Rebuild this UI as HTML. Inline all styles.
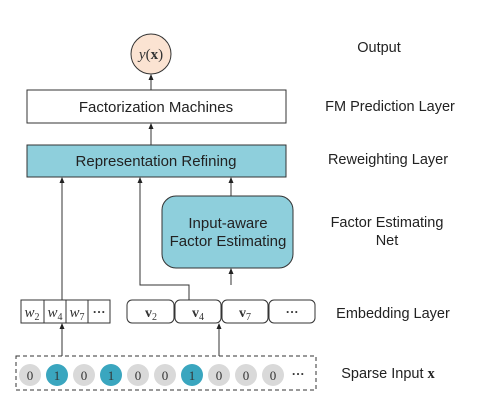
<!DOCTYPE html>
<html><head><meta charset="utf-8"><style>body{margin:0;background:#fff}</style></head><body>
<svg width="489" height="409" viewBox="0 0 489 409" xmlns="http://www.w3.org/2000/svg" font-family="Liberation Sans, sans-serif">
<defs><marker id="a" markerWidth="6" markerHeight="6" refX="5" refY="3" orient="auto" markerUnits="userSpaceOnUse"><path d="M0,0.5 L6,3 L0,5.5z" fill="#222"/></marker></defs>
<g stroke="#333" stroke-width="1" fill="none">
<circle cx="151" cy="54" r="20" fill="#fbe3d2"/>
<rect x="27" y="90" width="259" height="33" fill="#fff"/>
<rect x="27" y="145" width="259" height="32" fill="#8ecfdc"/>
<rect x="162" y="196" width="131" height="72" rx="14" fill="#8ecfdc"/>
<line x1="151" y1="90" x2="151" y2="75" marker-end="url(#a)"/>
<line x1="151" y1="145" x2="151" y2="124" marker-end="url(#a)"/>
<line x1="62" y1="300" x2="62" y2="178" marker-end="url(#a)"/>
<polyline points="189,300 189,285 140,285 140,178" marker-end="url(#a)"/>
<line x1="231" y1="196" x2="231" y2="178" marker-end="url(#a)"/>
<line x1="231" y1="285" x2="231" y2="269" marker-end="url(#a)"/>
<line x1="62" y1="356" x2="62" y2="324" marker-end="url(#a)"/>
<line x1="219" y1="356" x2="219" y2="324" marker-end="url(#a)"/>
<rect x="21" y="300" width="89" height="23" fill="#fff"/>
<line x1="44" y1="300" x2="44" y2="323"/><line x1="66" y1="300" x2="66" y2="323"/><line x1="88" y1="300" x2="88" y2="323"/>
<rect x="127" y="300" width="47" height="23" rx="5" fill="#fff"/>
<rect x="175" y="300" width="46" height="23" rx="5" fill="#fff"/>
<rect x="222" y="300" width="46" height="23" rx="5" fill="#fff"/>
<rect x="269" y="300" width="46" height="23" rx="5" fill="#fff"/>
<rect x="16" y="356" width="300" height="34" stroke-dasharray="4,3"/>
</g>
<g stroke="none">
<circle cx="30" cy="375" r="11" fill="#d9d9d9"/><circle cx="57" cy="375" r="11" fill="#3aa6bf"/>
<circle cx="84" cy="375" r="11" fill="#d9d9d9"/><circle cx="111" cy="375" r="11" fill="#3aa6bf"/>
<circle cx="138" cy="375" r="11" fill="#d9d9d9"/><circle cx="165" cy="375" r="11" fill="#d9d9d9"/>
<circle cx="192" cy="375" r="11" fill="#3aa6bf"/><circle cx="219" cy="375" r="11" fill="#d9d9d9"/>
<circle cx="246" cy="375" r="11" fill="#d9d9d9"/><circle cx="273" cy="375" r="11" fill="#d9d9d9"/>
</g>
<g font-family="Liberation Serif, serif" font-size="13" fill="#333" text-anchor="middle">
<text x="30" y="380">0</text><text x="57" y="380">1</text><text x="84" y="380">0</text><text x="111" y="380">1</text><text x="138" y="380">0</text><text x="165" y="380">0</text><text x="192" y="380">1</text><text x="219" y="380">0</text><text x="246" y="380">0</text><text x="273" y="380">0</text>
<text x="298" y="378" font-weight="bold">···</text>
<text x="151" y="59" font-size="15"><tspan font-style="italic">y</tspan>(<tspan font-weight="bold">x</tspan>)</text>
<text x="32" y="317" font-style="italic" font-size="15" text-anchor="middle">w<tspan font-size="10" font-style="normal" dy="3">2</tspan></text>
<text x="55" y="317" font-style="italic" font-size="15">w<tspan font-size="10" font-style="normal" dy="3">4</tspan></text>
<text x="77" y="317" font-style="italic" font-size="15">w<tspan font-size="10" font-style="normal" dy="3">7</tspan></text>
<text x="99" y="316" font-weight="bold">···</text>
<text x="151" y="317" font-size="14" font-weight="bold">v<tspan font-size="10" font-weight="normal" dy="3">2</tspan></text>
<text x="198" y="317" font-size="14" font-weight="bold">v<tspan font-size="10" font-weight="normal" dy="3">4</tspan></text>
<text x="245" y="317" font-size="14" font-weight="bold">v<tspan font-size="10" font-weight="normal" dy="3">7</tspan></text>
<text x="292" y="316" font-weight="bold">···</text>
</g>
<g font-size="15" fill="#222" text-anchor="middle">
<text x="156" y="112">Factorization Machines</text>
<text x="156" y="166">Representation Refining</text>
<text x="228" y="228">Input-aware</text>
<text x="228" y="246">Factor Estimating</text>
</g>
<g font-size="14.5" fill="#222" text-anchor="middle">
<text x="379" y="52">Output</text>
<text x="390" y="111">FM  Prediction Layer</text>
<text x="388" y="164">Reweighting Layer</text>
<text x="387" y="227">Factor Estimating</text>
<text x="387" y="245">Net</text>
<text x="393" y="318">Embedding Layer</text>
<text x="388" y="378">Sparse Input <tspan font-family="Liberation Serif, serif" font-weight="bold">x</tspan></text>
</g>
</svg>
</body></html>
